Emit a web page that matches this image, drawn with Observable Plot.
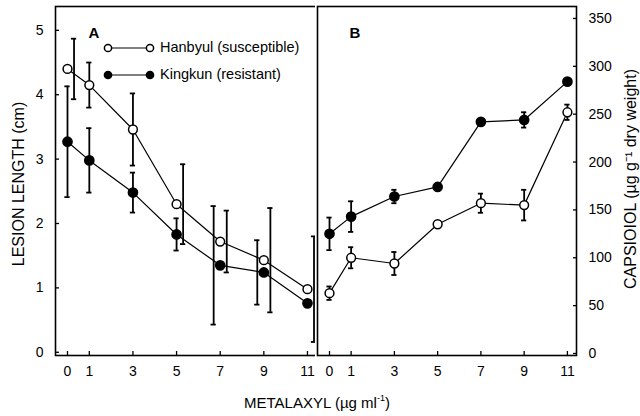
<!DOCTYPE html>
<html><head><meta charset="utf-8">
<script src="https://cdn.jsdelivr.net/npm/d3@7"></script>
<script src="https://cdn.jsdelivr.net/npm/@observablehq/plot@0.6"></script>
<style>
body{margin:0;background:#fff;font-family:"Liberation Sans",Arial,sans-serif;color:#000}
#wrap{position:relative;width:640px;height:416px;overflow:hidden;background:#fff}
#a,#b{position:absolute;top:0}
#a{left:0}
#b{left:315px}
.leg{position:absolute;left:103px;display:flex;align-items:center;font-size:14.5px;line-height:17px;white-space:nowrap}
.leg svg{margin-right:5px}
#xt{position:absolute;top:394px;left:0;width:634px;text-align:center;font-size:15px;line-height:18px}
#xt sup{font-size:9px;vertical-align:7px;line-height:0}
</style></head>
<body>
<div id="wrap">
  <div id="a"></div>
  <div id="b"></div>
  <div id="legend"></div>
  <div id="xt"></div>
</div>
<script>
// ---- data ----
const doses = [0, 1, 3, 5, 7, 9, 11];
const seriesNames = ["Hanbyul (susceptible)", "Kingkun (resistant)"];

// Panel A: lesion length (cm)
const hanbyulLesion    = [4.40, 4.15, 3.46, 2.30, 1.72, 1.43, 0.98];
const hanbyulLesionErr = [0.47, 0.35, 0.56, 0.62, 0.48, 0.81, 0.82];
const hanbyulErrShift  = [0.3, 0, 0, 0.3, 0.3, 0.3, 0.3];   // error bars drawn beside the point (dose units)
const kingkunLesion    = [3.27, 2.98, 2.48, 1.83, 1.35, 1.24, 0.76];
const kingkunLesionErr = [0.86, 0.50, 0.31, 0.25, 0.92, 0.50, 0];
const kingkunErrShift  = [0, 0, 0, 0, -0.3, -0.3, 0];

// Panel B: capsidiol (µg g-1 dry weight)
const hanbyulCaps    = [63, 100, 94, 135, 157, 155, 252];
const hanbyulCapsErr = [7, 11, 12, 0, 10, 16, 8];
const kingkunCaps    = [125, 143, 164, 174, 242, 244, 284];
const kingkunCapsErr = [17, 16, 7, 0, 0, 8, 0];

const lesionTicks = [0, 1, 2, 3, 4, 5];
const capsTicks = [0, 50, 100, 150, 200, 250, 300, 350];

const yTitleA = "LESION LENGTH (cm)";
const yTitleB = "CAPSIOIOL (\u00b5g g\u207b\u00b9 dry weight)";

// ---- build tables ----
function rows(vals, errs, shifts, series) {
  return doses.map((x, i) => ({x, y: vals[i], e: errs[i], s: shifts ? shifts[i] : 0, series}));
}
const A_han = rows(hanbyulLesion, hanbyulLesionErr, hanbyulErrShift, seriesNames[0]);
const A_king = rows(kingkunLesion, kingkunLesionErr, kingkunErrShift, seriesNames[1]);
const B_han = rows(hanbyulCaps, hanbyulCapsErr, null, seriesNames[0]);
const B_king = rows(kingkunCaps, kingkunCapsErr, null, seriesNames[1]);

const font = {fontFamily: "'Liberation Sans', Arial, sans-serif", fontSize: "14px", background: "white", color: "black"};
const capW = 0.12;

function errMarks(data) {
  const d = data.filter(r => r.e > 0);
  return [
    Plot.ruleX(d, {x: r => r.x + r.s, y1: r => r.y - r.e, y2: r => r.y + r.e, stroke: "black", strokeWidth: 1.8}),
    Plot.ruleY(d, {y: r => r.y + r.e, x1: r => r.x + r.s - capW, x2: r => r.x + r.s + capW, stroke: "black", strokeWidth: 1.8}),
    Plot.ruleY(d, {y: r => r.y - r.e, x1: r => r.x + r.s - capW, x2: r => r.x + r.s + capW, stroke: "black", strokeWidth: 1.8})
  ];
}
function seriesMarks(han, king) {
  return [
    Plot.line(han, {x: "x", y: "y", stroke: "black", strokeWidth: 1.2}),
    Plot.line(king, {x: "x", y: "y", stroke: "black", strokeWidth: 1.2}),
    ...errMarks(han), ...errMarks(king),
    Plot.dot(king, {x: "x", y: "y", r: 4.6, fill: "black", stroke: "black"}),
    Plot.dot(han, {x: "x", y: "y", r: 4.4, fill: "white", stroke: "black", strokeWidth: 1.5})
  ];
}

const plotA = Plot.plot({
  width: 318, height: 416,
  marginLeft: 55, marginRight: 1, marginTop: 6, marginBottom: 61,
  x: {domain: [-0.55, 11.46]},
  y: {domain: [-0.05, 5.37]},
  style: font,
  marks: [
    Plot.axisX(doses, {tickSize: -4, tickPadding: 15, label: null, strokeWidth: 1.3, tickFormat: d3.format("d")}),
    Plot.axisY(lesionTicks, {tickSize: -4, tickPadding: 16, label: null, strokeWidth: 1.3, tickFormat: d3.format("d")}),
    ...seriesMarks(A_han, A_king),
    Plot.frame({stroke: "black", strokeWidth: 1.6}),
    Plot.text(["A"], {frameAnchor: "top-left", dx: 33, dy: 21, textAnchor: "start", fontWeight: "bold", fontSize: 15}),
    Plot.text([yTitleA], {frameAnchor: "left", textAnchor: "middle", dx: -37, dy: 3, rotate: -90, fontSize: 16, ariaLabel: "ytitle"})
  ]
});
document.getElementById("a").append(plotA);

const plotB = Plot.plot({
  width: 325, height: 416,
  marginLeft: 2, marginRight: 64, marginTop: 6, marginBottom: 61,
  x: {domain: [-0.555, 11.42]},
  y: {domain: [-2.1, 362.5]},
  style: font,
  marks: [
    Plot.axisX(doses, {tickSize: -4, tickPadding: 15, label: null, strokeWidth: 1.3, tickFormat: d3.format("d")}),
    Plot.axisY(capsTicks, {anchor: "right", tickSize: -4, tickPadding: 16, label: null, strokeWidth: 1.3, tickFormat: d3.format("d")}),
    ...seriesMarks(B_han, B_king),
    Plot.frame({stroke: "black", strokeWidth: 1.6}),
    Plot.text(["B"], {frameAnchor: "top-left", dx: 32, dy: 21, textAnchor: "start", fontWeight: "bold", fontSize: 15}),
    Plot.text([yTitleB], {frameAnchor: "right", textAnchor: "middle", dx: 54, dy: -2, rotate: -90, fontSize: 16, ariaLabel: "ytitle"})
  ]
});
document.getElementById("b").append(plotB);

// widen title letter spacing to match the reference's extent
const tA = plotA.querySelector('[aria-label="ytitle"]'); if (tA) tA.style.letterSpacing = "2px";
const tB = plotB.querySelector('[aria-label="ytitle"]'); if (tB) tB.style.letterSpacing = "1px";

// legend
const leg = document.getElementById("legend");
seriesNames.forEach((name, i) => {
  const row = document.createElement("div");
  row.className = "leg";
  row.style.top = (i === 0 ? 39 : 66) + "px";
  const fill = i === 0 ? "white" : "black";
  row.innerHTML = `<svg width="52" height="12" viewBox="0 0 52 12">
    <line x1="8" y1="6" x2="44" y2="6" stroke="black" stroke-width="1.2"/>
    <circle cx="5" cy="6" r="3.6" fill="${fill}" stroke="black" stroke-width="1.5"/>
    <circle cx="47" cy="6" r="3.6" fill="${fill}" stroke="black" stroke-width="1.5"/>
  </svg><span>${name}</span>`;
  leg.append(row);
});
document.getElementById("xt").innerHTML = "METALAXYL (\u00b5g ml<sup>-1</sup>)";
</script>
</body></html>
